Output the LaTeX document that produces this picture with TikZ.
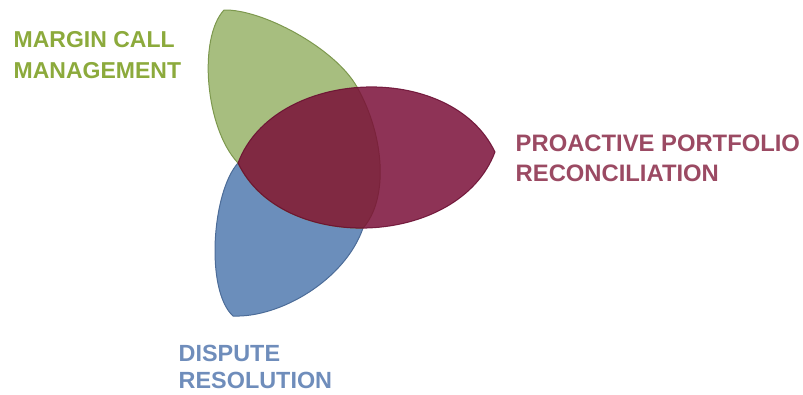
\documentclass[tikz,border=0pt]{standalone}
\usepackage{fontspec}
\setmainfont{Liberation Sans}
\definecolor{leafgreen}{RGB}{167,190,127}
\definecolor{leafgreenline}{RGB}{125,152,78}
\definecolor{leafblue}{RGB}{107,142,187}
\definecolor{leafblueline}{RGB}{76,108,152}
\definecolor{leafred}{RGB}{122,15,56}
\definecolor{leafredline}{RGB}{105,12,48}
\definecolor{txtgreen}{RGB}{140,170,60}
\definecolor{txtred}{RGB}{155,74,99}
\definecolor{txtblue}{RGB}{111,141,187}
\tikzset{
  lbl/.style={anchor=north west, inner sep=0pt, align=left},
  greenleaf/.style={fill=leafgreen, draw=leafgreenline, line width=1pt, line join=round},
  blueleaf/.style={fill=leafblue, draw=leafblueline, line width=1pt, line join=round},
  redleaf/.style={fill=leafred, draw=leafredline, line width=1pt, opacity=0.85}
}
\begin{document}
\begin{tikzpicture}[x=1pt,y=-1pt]
\useasboundingbox (0,0) rectangle (803,394);
\coordinate (gtip) at (224,10);
\coordinate (mid) at (238,163);
\coordinate (gbot) at (363,228.1);
\coordinate (gtop) at (357,87);
\coordinate (btip) at (233,316);
\coordinate (rtip) at (495,152);
% blue leaf (lower left)
\path[blueleaf] (mid) .. controls (212,192) and (205,290) .. (btip)
  .. controls (280,318) and (345,280) .. (gbot)
  -- (300,175) -- cycle;
% green leaf (upper left)
\path[greenleaf] (mid) .. controls (205,128) and (198,38) .. (gtip)
  .. controls (262,9) and (335,48) .. (gtop)
  .. controls (385.6,137.7) and (388,200) .. (gbot)
  .. controls (310.87,228.52) and (259.07,207.26) .. cycle;
% red leaf (right)
\path[redleaf] (mid) .. controls (273.85,67.4) and (451.1,59.8) .. (rtip)
  .. controls (459.15,247.6) and (281.9,255.2) .. cycle;
\node[lbl, text=txtgreen, font=\bfseries\fontsize{23}{31}\selectfont] (mcm) at (13.5,31.5) {MARGIN CALL\\MANAGEMENT};
\node[lbl, text=txtred, font=\bfseries\fontsize{23.8}{30}\selectfont] (ppr) at (515.5,135) {PROACTIVE PORTFOLIO\\RECONCILIATION};
\node[lbl, text=txtblue, font=\bfseries\fontsize{23.4}{27}\selectfont] (dr) at (178.5,345) {DISPUTE\\RESOLUTION};
\end{tikzpicture}
\end{document}
